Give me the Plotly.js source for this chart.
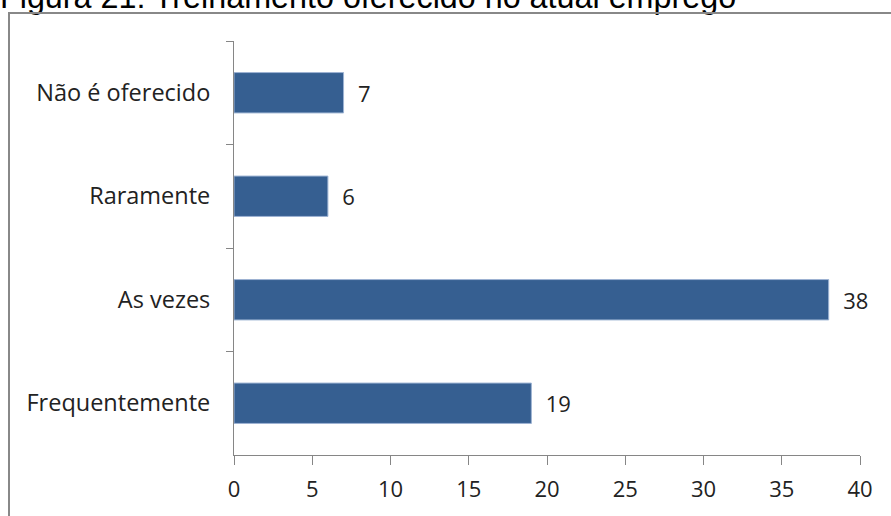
<!DOCTYPE html>
<html>
<head>
<meta charset="utf-8">
<script src="https://cdn.plot.ly/plotly-3.0.1.min.js"></script>
<style>
html,body{margin:0;padding:0;overflow:hidden;background:#fff;}
#wrap{position:relative;width:891px;height:516px;overflow:hidden;}
#chart{position:absolute;left:0;top:0;width:891px;height:516px;}
#frame{position:absolute;left:8px;top:12px;width:1000px;height:600px;border:2px solid #888888;pointer-events:none;}
</style>
</head>
<body>
<div id="wrap"><div id="chart"></div><div id="frame"></div></div>
<script>
const titleText = "Figura 21: Treinamento oferecido no atual emprego";
const categories = ["Não é oferecido", "Raramente", "As vezes", "Frequentemente"];
const values = [7, 6, 38, 19];
const xTicks = [0, 5, 10, 15, 20, 25, 30, 35, 40];

const trace = {
  type: "bar",
  orientation: "h",
  y: categories,
  x: values,
  marker: {color: "#365F91", line: {color: "#9DB3D3", width: 1}},
  text: values.map(v => "\u00a0\u00a0" + v),
  textposition: "outside",
  cliponaxis: false,
  textfont: {family: "Open Sans", size: 22, color: "#222222"},
  hoverinfo: "none"
};

const layout = {
  width: 891, height: 516,
  margin: {l: 234, r: 31, t: 41, b: 61, pad: 0},
  paper_bgcolor: "#ffffff", plot_bgcolor: "#ffffff",
  bargap: 0.61,
  showlegend: false,
  annotations: [{
    text: titleText,
    font: {family: "Liberation Sans", size: 32.3, color: "#000000"},
    xref: "paper", x: -0.3755, xanchor: "left",
    yref: "paper", y: 1.1063, yanchor: "middle",
    showarrow: false, borderpad: 0
  }],
  xaxis: {
    range: [0, 40], tickvals: xTicks, ticktext: xTicks.map(String),
    showgrid: false, zeroline: false,
    showline: true, linecolor: "#868686", linewidth: 1,
    ticks: "outside", ticklen: 9, tickcolor: "#868686", tickwidth: 1,
    tickfont: {family: "Open Sans", size: 22, color: "#222222"},
    ticklabelstandoff: 6,
    fixedrange: true
  },
  yaxis: {
    type: "category", categoryorder: "array", categoryarray: categories,
    autorange: "reversed",
    showgrid: false, zeroline: false,
    showline: true, linecolor: "#868686", linewidth: 1,
    ticks: "outside", ticklen: 7, tickcolor: "#868686", tickwidth: 1,
    tickson: "boundaries",
    tickfont: {family: "Open Sans", size: 23.5, color: "#222222"},
    ticklabelstandoff: 18,
    fixedrange: true
  }
};

Plotly.newPlot("chart", [trace], layout, {displayModeBar: false, staticPlot: true});
</script>
</body>
</html>
